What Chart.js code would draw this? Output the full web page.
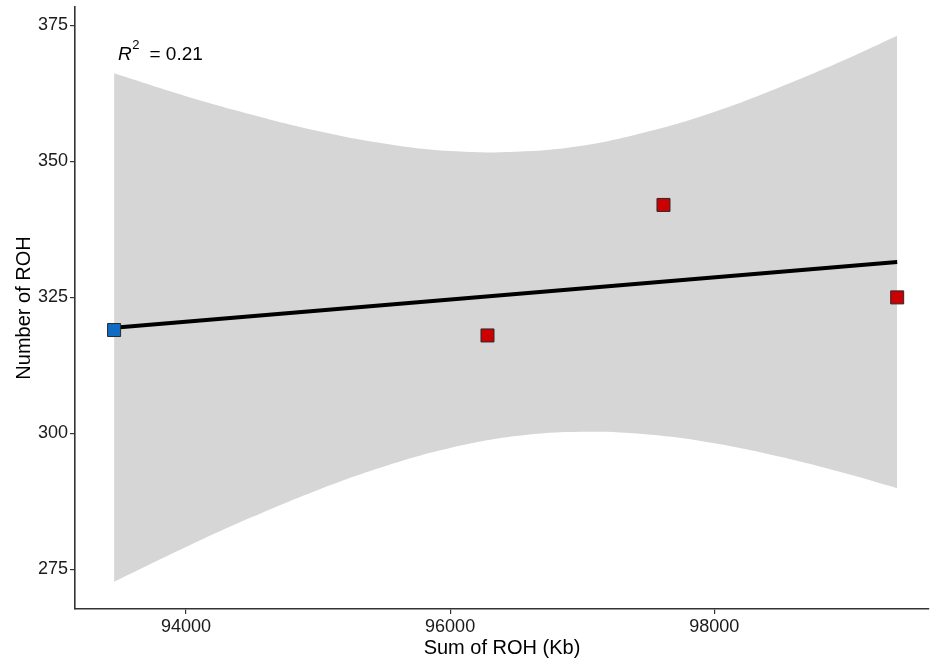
<!DOCTYPE html>
<html>
<head>
<meta charset="utf-8">
<script src="https://cdn.jsdelivr.net/npm/chart.js@4/dist/chart.umd.min.js"></script>
<style>
  html, body { margin: 0; padding: 0; background: #ffffff; }
  #wrap { width: 930px; height: 663px; }
</style>
</head>
<body>
<div id="wrap"><canvas id="c" width="930" height="663"></canvas></div>
<script>
// Samples: sum of ROH (Kb) vs number of ROH
const sampleSum   = [93455, 96283, 97616, 99386];
const sampleCount = [319, 318, 342, 325];
const sampleGroup = ['A', 'B', 'B', 'B'];

// Linear fit and its 95% confidence band
const fitX = [93455, 99386];
const fitY = [319.4, 331.5];
const bandX     = [93455, 94000, 94500, 95000, 95500, 96000, 96500, 97000, 97500, 98000, 98500, 99000, 99386];
const bandUpper = [366.2, 362.0, 358.6, 355.6, 353.3, 351.9, 351.8, 352.9, 355.5, 359.1, 363.7, 368.8, 373.1];
const bandLower = [272.7, 279.1, 284.6, 289.6, 293.9, 297.3, 299.5, 300.3, 299.8, 298.2, 295.7, 292.6, 289.9];

const rSquaredText = '0.21';
const labelAnchor = [93485, 369.6];

const xTicks = [94000, 96000, 98000];
const yTicks = [275, 300, 325, 350, 375];

const FONT = "'Liberation Sans', Arial, Helvetica, sans-serif";

const pts = (xs, ys) => xs.map((x, i) => ({ x: x, y: ys[i] }));
const groupPts = g => sampleSum.map((x, i) => ({ x: x, y: sampleCount[i], g: sampleGroup[i] }))
                               .filter(p => p.g === g);

// R² annotation in the top-left corner of the plot
const r2Label = {
  id: 'r2Label',
  afterDatasetsDraw(chart) {
    const ctx = chart.ctx;
    const x0 = chart.scales.x.getPixelForValue(labelAnchor[0]);
    const yMid = chart.scales.y.getPixelForValue(labelAnchor[1]);
    ctx.save();
    ctx.fillStyle = '#000000';
    ctx.textBaseline = 'middle';
    ctx.textAlign = 'left';
    ctx.font = 'italic 19px ' + FONT;
    ctx.fillText('R', x0, yMid);
    let x = x0 + ctx.measureText('R').width + 0.5;
    ctx.font = '13px ' + FONT;
    ctx.fillText('2', x, yMid - 9);
    x += ctx.measureText('2').width + 10;
    ctx.font = '19px ' + FONT;
    ctx.fillText('= ' + rSquaredText, x, yMid);
    ctx.restore();
  }
};

const axisCommon = {
  border: { display: true, color: '#333333', width: 1.6 },
  grid: { display: true, drawOnChartArea: false, drawTicks: true, tickLength: 5, color: '#333333', lineWidth: 1.2 },
};

const plainNumber = v => String(v);

new Chart(document.getElementById('c'), {
  type: 'scatter',
  data: {
    datasets: [
      {
        type: 'scatter',
        data: groupPts('A'),
        pointStyle: 'rect',
        pointRadius: 9.2,
        backgroundColor: '#0f6cc4',
        borderColor: '#2a2a2a',
        borderWidth: 1,
        order: 0
      },
      {
        type: 'scatter',
        data: groupPts('B'),
        pointStyle: 'rect',
        pointRadius: 9.2,
        backgroundColor: '#cc0000',
        borderColor: '#2a2a2a',
        borderWidth: 1,
        order: 0
      },
      {
        type: 'line',
        data: pts(fitX, fitY),
        borderColor: '#000000',
        borderWidth: 4,
        pointRadius: 0,
        fill: false,
        order: 1
      },
      {
        type: 'line',
        data: pts(bandX, bandUpper),
        borderWidth: 0,
        borderColor: 'rgba(0,0,0,0)',
        backgroundColor: '#d6d6d6',
        pointRadius: 0,
        tension: 0.4,
        fill: '+1',
        order: 2
      },
      {
        type: 'line',
        data: pts(bandX, bandLower),
        borderWidth: 0,
        borderColor: 'rgba(0,0,0,0)',
        pointRadius: 0,
        tension: 0.4,
        fill: false,
        order: 2
      }
    ]
  },
  options: {
    responsive: false,
    animation: false,
    layout: { autoPadding: false, padding: { top: 7, right: 1, left: 0, bottom: 0 } },
    plugins: { legend: { display: false }, tooltip: { enabled: false } },
    scales: {
      x: Object.assign({}, axisCommon, {
        type: 'linear',
        min: 93159,
        max: 99627,
        afterBuildTicks: s => { s.ticks = xTicks.map(v => ({ value: v })); },
        afterFit: s => { s.height = 54; s.paddingLeft = 0; s.paddingRight = 0; },
        ticks: { font: { family: FONT, size: 18 }, color: '#1a1a1a', padding: 2, maxRotation: 0, callback: plainNumber },
        title: { display: true, text: 'Sum of ROH (Kb)', font: { family: FONT, size: 20 }, color: '#000000', padding: 3 }
      }),
      y: Object.assign({}, axisCommon, {
        type: 'linear',
        min: 267.7,
        max: 378.4,
        afterBuildTicks: s => { s.ticks = yTicks.map(v => ({ value: v })); },
        afterFit: s => { s.width = 75; s.paddingTop = 0; s.paddingBottom = 0; },
        ticks: { font: { family: FONT, size: 18 }, color: '#1a1a1a', padding: 2, callback: plainNumber },
        title: { display: true, text: 'Number of ROH', font: { family: FONT, size: 20 }, color: '#000000', padding: 12 }
      })
    }
  },
  plugins: [r2Label]
});
</script>
</body>
</html>
